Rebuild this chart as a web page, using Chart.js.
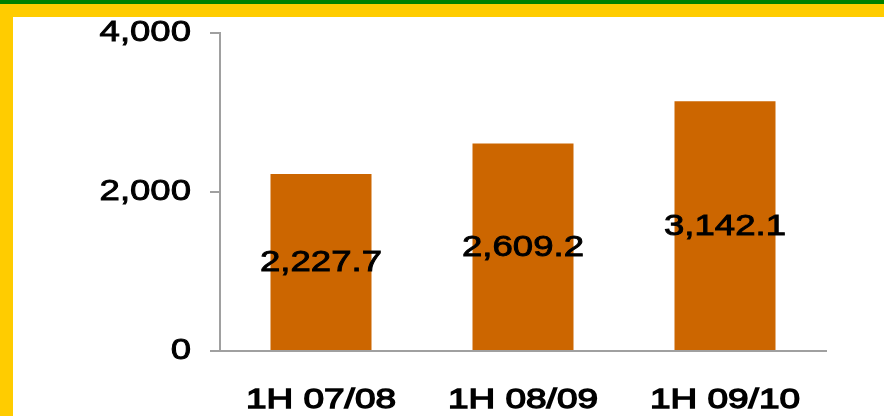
<!DOCTYPE html>
<html>
<head>
<meta charset="utf-8">
<script src="https://cdn.jsdelivr.net/npm/chart.js@4"></script>
<style>
  html, body { margin: 0; padding: 0; background: #fff; }
  #wrap { position: relative; width: 884px; height: 416px; overflow: hidden; }
  .band-g { position: absolute; left: 0; top: 0; width: 884px; height: 4px; background: #008000; }
  .band-y { position: absolute; left: 0; top: 4px; width: 884px; height: 13px; background: #ffcc00; }
  .band-l { position: absolute; left: 0; top: 4px; width: 13px; height: 412px; background: #ffcc00; }
  #chart { position: absolute; left: 0; top: 0; }
</style>
</head>
<body>
<div id="wrap">
  <div class="band-g"></div>
  <div class="band-y"></div>
  <div class="band-l"></div>
  <canvas id="chart" width="884" height="416"></canvas>
</div>
<script>
/* ── data ── */
const categories = ['1H 07/08', '1H 08/09', '1H 09/10'];
const values     = [2227.7, 2609.2, 3142.1];
const yTicks     = [0, 2000, 4000];

const fmt = v => v.toLocaleString('en-US', { minimumFractionDigits: 0, maximumFractionDigits: 1 });
const FONT = "'Liberation Sans', Arial, sans-serif";

// the original text is stretched sideways and a bit heavy;
// widen every text around its anchor and thicken it with a thin stroke
function stretchText(ctx) {
  const orig = ctx.fillText;
  ctx.fillText = function (t, x, y) {
    const isX = this.font.indexOf('28px') >= 0;
    const k = isX ? 1.32 : 1.26;
    this.save();
    this.translate(x, y);
    this.scale(k, 1);
    orig.call(this, t, 0, 0);
    this.strokeStyle = this.fillStyle;
    this.lineWidth = isX ? 1.3 : 0.9;
    this.strokeText(t, 0, 0);
    this.restore();
  };
}

// value labels in the middle of each bar
const barLabels = {
  id: 'barLabels',
  afterDatasetsDraw: c => {
    const ctx = c.ctx;
    ctx.save();
    ctx.font = '29px ' + FONT;
    ctx.fillStyle = '#000';
    ctx.textAlign = 'center';
    ctx.textBaseline = 'middle';
    c.getDatasetMeta(0).data.forEach((bar, i) => {
      const v = c.data.datasets[0].data[i];
      ctx.fillText(v.toLocaleString('en-US', { minimumFractionDigits: 1 }), bar.x, (bar.y + bar.base) / 2 + 1);
    });
    ctx.restore();
  }
};

const canvas = document.getElementById('chart');
stretchText(canvas.getContext('2d'));

new Chart(canvas, {
  type: 'bar',
  data: {
    labels: categories,
    datasets: [{
      data: values,
      backgroundColor: '#cc6600',
      barPercentage: 0.5,
      categoryPercentage: 1
    }]
  },
  plugins: [barLabels],
  options: {
    responsive: false,
    animation: false,
    layout: { padding: { top: 33, right: 58, left: 0, bottom: 0 } },
    plugins: { legend: { display: false }, tooltip: { enabled: false } },
    scales: {
      x: {
        grid: { display: false },
        border: { color: '#a0a0a0', width: 2 },
        ticks: { color: '#000', font: { family: FONT, size: 28 }, padding: 24 },
        afterFit: s => { s.height = 65; }
      },
      y: {
        min: 0, max: 4000,
        afterBuildTicks: s => { s.ticks = yTicks.map(v => ({ value: v })); },
        grid: { drawOnChartArea: false, drawTicks: true, tickLength: 10, color: '#a0a0a0', lineWidth: 2 },
        border: { color: '#a0a0a0', width: 2 },
        ticks: { color: '#000', font: { family: FONT, size: 29, lineHeight: 0.9 }, padding: 19, callback: v => fmt(v) },
        afterFit: s => { s.width = 220; }
      }
    }
  }
});
</script>
</body>
</html>
